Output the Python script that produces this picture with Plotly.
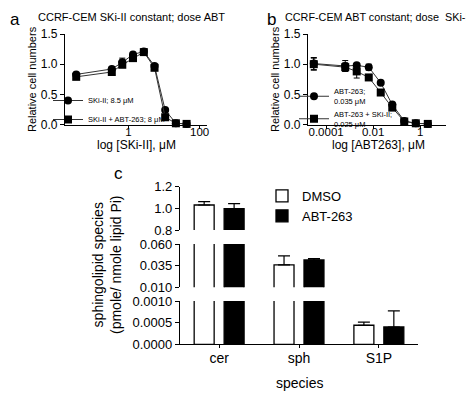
import plotly.graph_objects as go

# page body has an 8px margin, so the figure is drawn 8px in from the window's corner
OFF = 8
W, H = 474 - OFF, 395 - OFF
def px(x): return (x - OFF) / W
def py(y): return 1 - (y - OFF) / H

FONT = "Liberation Sans, Arial, sans-serif"

# ---- Panel a data: SKi-II dose series ----
a_conc = [0.034, 0.34, 0.67, 1.34, 2.7, 5.4, 10.75, 21.5, 43]
a_ski = [0.83, 0.92, 1.03, 1.16, 1.21, 0.97, 0.24, 0.02, 0.01]
a_ski_err = [0.02, 0.03, 0.07, 0.03, 0.02, 0.03, 0.02, 0.01, 0.01]
a_combo = [0.79, 0.87, 0.99, 1.10, 1.20, 0.94, 0.12, 0.02, 0.01]
a_combo_err = [0.02, 0.02, 0.03, 0.03, 0.02, 0.02, 0.02, 0.01, 0.01]

# ---- Panel b data: ABT-263 dose series ----
b_conc = [0.00003, 0.00065, 0.002, 0.0065, 0.021, 0.065, 0.21, 0.65, 2.1]
b_abt = [1.01, 0.97, 0.98, 0.95, 0.69, 0.33, 0.06, 0.02, 0.01]
b_abt_err = [0.10, 0.09, 0.03, 0.05, 0.02, 0.03, 0.02, 0.01, 0.01]
b_combo = [1.00, 0.95, 0.88, 0.78, 0.53, 0.28, 0.05, 0.02, 0.01]
b_combo_err = [0.10, 0.07, 0.11, 0.04, 0.03, 0.03, 0.02, 0.01, 0.01]

# ---- Panel c data: sphingolipid species ----
species = ["cer", "sph", "S1P"]
dmso_mean = [1.031, 0.0358, 0.00044]
dmso_err = [0.031, 0.0104, 0.00007]
abt_mean = [0.997, 0.0415, 0.00040]
abt_err = [0.046, 0.0015, 0.00037]

fig = go.Figure()

def curve(x, y, err, name, symbol, xa, ya, leg):
    fig.add_trace(go.Scatter(
        x=x, y=y, mode="lines+markers", name=name,
        xaxis=xa, yaxis=ya, legend=leg,
        line=dict(color="#333333", width=1),
        marker=dict(symbol=symbol, size=8, color="black"),
        error_y=dict(type="data", array=err, color="black", thickness=1, width=3),
        cliponaxis=False,
    ))

curve(a_conc, a_ski, a_ski_err, "SKi-II; 8.5 \u03bcM", "circle", "x", "y", "legend")
curve(a_conc, a_combo, a_combo_err, "SKi-II + ABT-263; 8 \u03bcM", "square", "x", "y", "legend")
curve(b_conc, b_abt, b_abt_err, "ABT-263;<br>0.035 \u03bcM", "circle", "x2", "y2", "legend2")
curve(b_conc, b_combo, b_combo_err, "ABT-263 + SKi-II;<br>0.025 \u03bcM", "square", "x2", "y2", "legend2")

# panel c: same bars drawn in three broken-axis segments
for ya, show in [("y3", True), ("y4", False), ("y5", False)]:
    fig.add_trace(go.Bar(
        x=species, y=dmso_mean, name="DMSO", xaxis="x3", yaxis=ya,
        legend="legend3", showlegend=show,
        marker=dict(color="white", line=dict(color="black", width=1.3)),
        error_y=dict(type="data", array=dmso_err, arrayminus=[0, 0, 0], symmetric=False,
                     color="black", thickness=1.2, width=6),
    ))
    fig.add_trace(go.Bar(
        x=species, y=abt_mean, name="ABT-263", xaxis="x3", yaxis=ya,
        legend="legend3", showlegend=show,
        marker=dict(color="black", line=dict(color="black", width=1.3)),
        error_y=dict(type="data", array=abt_err, arrayminus=[0, 0, 0], symmetric=False,
                     color="black", thickness=1.2, width=6),
    ))

ax_common = dict(showline=True, linecolor="black", linewidth=1.2, ticks="outside",
                 ticklen=4, tickwidth=1, tickcolor="black", showgrid=False, zeroline=False,
                 automargin=False,
                 tickfont=dict(family=FONT, size=12, color="black"))
c_tick = {**ax_common, "tickfont": dict(family=FONT, size=13, color="black")}
x_log = {**ax_common, "ticklen": 3, "ticklabelstandoff": -6,
         "tickfont": dict(family=FONT, size=11.5, color="black")}

fig.update_layout(
    width=W, height=H, margin=dict(l=0, r=0, t=0, b=0, pad=0),
    paper_bgcolor="white", plot_bgcolor="white",
    font=dict(family=FONT, color="black"),
    barmode="group", bargap=0.25, bargroupgap=0.333,
    xaxis=dict(domain=[px(65), px(207)], type="log", range=[-1.784, 2.207],
               tickvals=[1, 100], ticktext=["1", "100"], anchor="y", **x_log),
    yaxis=dict(domain=[py(124.5), py(34)], range=[0, 1.5], tickvals=[0, 0.5, 1.0, 1.5],
               tickformat=".1f", anchor="x", **ax_common),
    xaxis2=dict(domain=[px(308), px(446)], type="log", range=[-4.769, 1.096],
                tickvals=[0.0001, 0.01, 1], ticktext=["0.0001", "0.01", "1"], anchor="y2", **x_log),
    yaxis2=dict(domain=[py(124.5), py(34)], range=[0, 1.5], tickvals=[0, 0.5, 1.0, 1.5],
                tickformat=".1f", anchor="x2", **ax_common),
    xaxis3=dict(domain=[px(180), px(418)], range=[-0.49, 2.49], anchor="y3",
                **{**ax_common, "tickfont": dict(family=FONT, size=14, color="black"),
                   "ticklen": 3, "ticklabelstandoff": -2}),
    yaxis3=dict(domain=[py(344.3), py(301)], range=[0, 0.001], tickvals=[0, 0.0005, 0.001],
                tickformat=".4f", anchor="x3", **c_tick),
    yaxis4=dict(domain=[py(287.3), py(244)], range=[0.01, 0.06], tickvals=[0.01, 0.035, 0.06],
                tickformat=".3f", anchor="x3", **c_tick),
    yaxis5=dict(domain=[py(230), py(186.7)], range=[0.8, 1.2], tickvals=[0.8, 1.0, 1.2],
                tickformat=".1f", anchor="x3", **c_tick),
    legend=dict(x=px(48), y=py(134), xanchor="left", yanchor="bottom",
                bgcolor="rgba(0,0,0,0)", itemwidth=30, tracegroupgap=0,
                font=dict(family=FONT, size=7.5, color="black")),
    legend2=dict(x=px(294), y=py(80), xanchor="left", yanchor="top",
                 bgcolor="rgba(0,0,0,0)", itemwidth=30, tracegroupgap=0,
                 font=dict(family=FONT, size=7.5, color="black")),
    legend3=dict(x=px(262), y=py(181), xanchor="left", yanchor="top",
                 bgcolor="rgba(0,0,0,0)", itemwidth=30, tracegroupgap=0,
                 font=dict(family=FONT, size=13, color="black")),
)

ann = []
def text(x, y, s, size, angle=0, xanchor="center", yanchor="middle"):
    ann.append(dict(x=px(x), y=py(y), xref="paper", yref="paper", text=s, showarrow=False,
                    textangle=angle, xanchor=xanchor, yanchor=yanchor,
                    font=dict(family=FONT, size=size, color="black")))

text(OFF, OFF, "a", 17, xanchor="left", yanchor="top")
text(265, OFF, "b", 17, xanchor="left", yanchor="top")
text(118, 174, "c", 17)
text(131, 17, "CCRF-CEM SKi-II constant; dose ABT", 11)
text(283, 17, "CCRF-CEM ABT constant; dose  SKi-II", 10.8, xanchor="left")
text(32, 79, "Relative cell numbers", 11, angle=-90)
text(275, 79, "Relative cell numbers", 11, angle=-90)
text(136, 145, "log [SKi-II], \u03bcM", 12)
text(378, 145, "log [ABT263], \u03bcM", 12)
text(107, 265, "sphingolipid species<br>(pmole/ nmole lipid Pi)", 14, angle=-90)
text(299, 383, "species", 14)
fig.update_layout(annotations=ann)

fig.write_html("out.html")
